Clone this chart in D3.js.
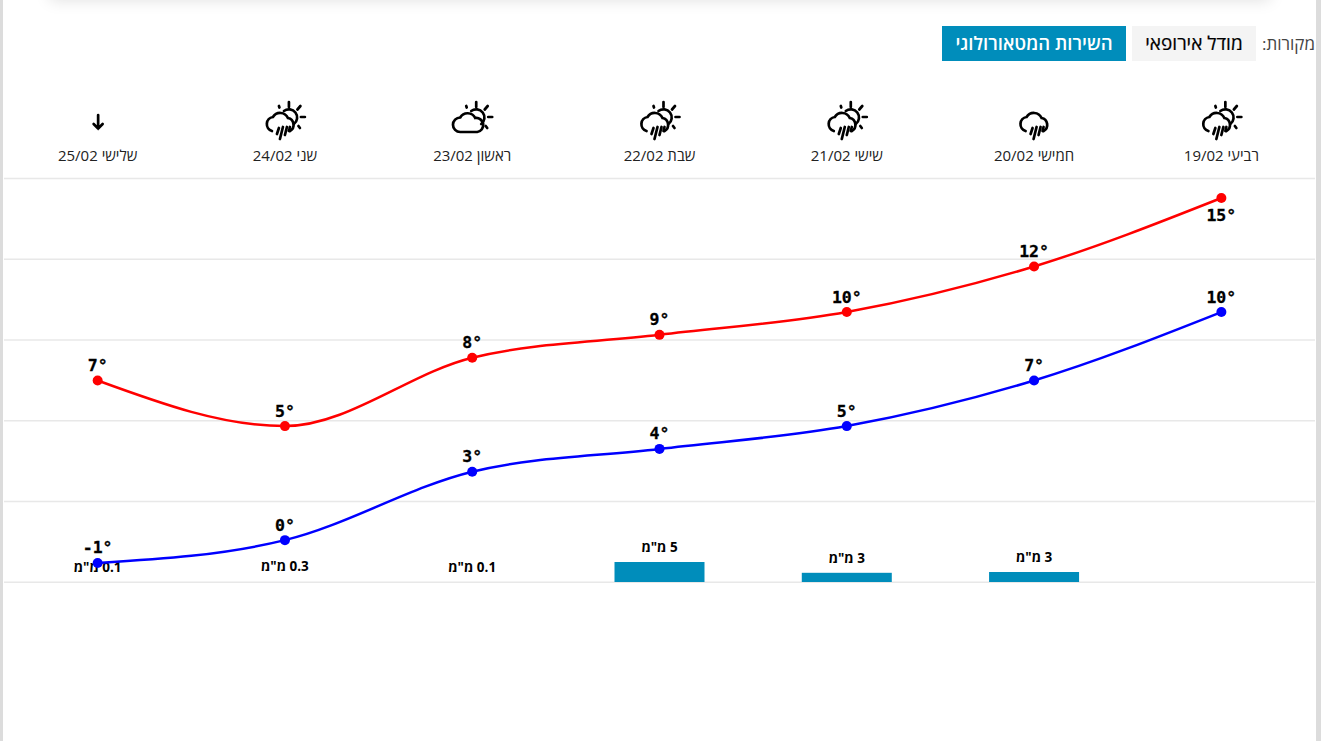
<!DOCTYPE html>
<html>
<head>
<meta charset="utf-8">
<script src="https://cdn.jsdelivr.net/npm/d3@7"></script>
<style>
html, body { margin: 0; padding: 0; background: #fff; overflow: hidden; }
svg { display: block; font-family: "Open Sans", sans-serif; }
.card-shadow { position: absolute; left: 50px; top: -30px; width: 1220px; height: 30px; box-shadow: 0 0 16px rgba(0,0,0,0.13); }
</style>
</head>
<body>
<div class="card-shadow"></div>
<script>
// data, right to left like the page
var days = ["רביעי", "חמישי", "שישי", "שבת", "ראשון", "שני", "שלישי"];
var dates = ["19/02", "20/02", "21/02", "22/02", "23/02", "24/02", "25/02"];
var maxTemps = [15, 12, 10, 9, 8, 5, 7];
var minTemps = [10, 7, 5, 4, 3, 0, -1];
var rain = [0, 2.5, 2.3, 5, 0.1, 0.3, 0.1];
var rainLabels = ["", "3", "3", "5", "0.1", "0.3", "0.1"];
var icons = ["partlyRain", "rain", "partlyRain", "partlyRain", "partly", "partlyRain", "arrow"];
var gridTemps = [-1.848, 1.693, 5.234, 8.775, 12.314, 15.855];
var sources = ["השירות המטאורולוגי", "מודל אירופאי"];

var w = 1321;
var h = 741;

var svg = d3.select("body")
            .append("svg")
            .attr("width", w)
            .attr("height", h);

// gray edges of the window
svg.append("rect").attr("x", 0).attr("y", 0).attr("width", 3).attr("height", h).style("fill", "#dcdcdc");
svg.append("rect").attr("x", 1316).attr("y", 0).attr("width", 5).attr("height", h).style("fill", "#dcdcdc");

var x = d3.scaleBand().domain(dates).range([1315, 4]);
var yTemp = d3.scaleLinear().domain([-1.848, 15.855]).range([582.3, 178.5]);
var yRain = d3.scaleLinear().domain([0, 5]).range([582, 562]);

function cx(i) {
    return x(dates[i]) + x.bandwidth() / 2;
}

// grid
svg.append("g")
    .selectAll("line")
    .data(gridTemps)
    .enter()
    .append("line")
    .attr("x1", 4)
    .attr("x2", 1315)
    .attr("y1", function(d) { return yTemp(d); })
    .attr("y2", function(d) { return yTemp(d); })
    .style("stroke", "#e8e8e8")
    .style("stroke-width", 1.5);

// source buttons
svg.append("text")
    .attr("x", 1315)
    .attr("y", 50)
    .attr("direction", "rtl")
    .style("font-size", "17px")
    .style("fill", "#444")
    .text("מקורות:");
svg.append("rect").attr("x", 1132).attr("y", 26).attr("width", 124).attr("height", 35).style("fill", "#f4f4f4");
svg.append("rect").attr("x", 942).attr("y", 26).attr("width", 184).attr("height", 35).style("fill", "#008dbb");
svg.append("text")
    .attr("x", 1194).attr("y", 50)
    .attr("text-anchor", "middle")
    .attr("direction", "rtl")
    .style("font-size", "19px")
    .style("stroke", "#000")
    .style("stroke-width", 0.2)
    .style("fill", "#000")
    .text(sources[1]);
svg.append("text")
    .attr("x", 1034).attr("y", 50)
    .attr("text-anchor", "middle")
    .attr("direction", "rtl")
    .style("font-size", "18.5px")
    .style("font-weight", "600")
    .style("fill", "#fff")
    .text(sources[0]);

// day header
var header = svg.append("g")
    .selectAll("g")
    .data(dates)
    .enter()
    .append("g")
    .attr("transform", function(d, i) { return "translate(" + cx(i) + ",120)"; });

header.append("text")
    .attr("y", 41)
    .attr("text-anchor", "middle")
    .attr("direction", "rtl")
    .style("font-size", "15px")
    .style("fill", "#222")
    .text(function(d, i) { return days[i] + " " + d; });

var cloudPartly = "M-12,12 A7.2,7.2 0 0 1 -12,-2.5 A8.5,8.5 0 0 1 3,-2 A7,7 0 0 1 5,12 Z";
var cloudRain = "M-13,11 A7.2,7.2 0 0 1 -12,-3 A8.5,8.5 0 0 1 3,-2 A7,7 0 0 1 5,11";
var sun = "M-1,-9 A8,8 0 0 1 9,4";
var rays = "M4,-18 V-13 M15.5,-14 L12.5,-10.5 M16,-3 H20 M13.5,6 L15,8 M-6,-14 L-5.5,-12.5";
var drops = "M-6,8 L-8,14 M-2,7 L-5,19 M2,7 L0,15 M5,7 L4,11";

header.each(function(d, i) {
    var g = d3.select(this);
    var type = icons[i];
    function stroke(p, dx, dy) {
        g.append("path")
            .attr("d", p)
            .attr("transform", "translate(" + dx + "," + (dy || 0) + ")")
            .style("fill", "none")
            .style("stroke", "#000")
            .style("stroke-width", 2.7)
            .style("stroke-linecap", "round");
    }
    if (type == "partlyRain") {
        stroke(sun, 0); stroke(rays, 0); stroke(cloudRain, 0); stroke(drops, 0);
    } else if (type == "rain") {
        stroke(cloudRain, 4.5); stroke(drops, 4.5);
    } else if (type == "partly") {
        stroke(sun, 0); stroke(rays, 0); stroke(cloudPartly, 0);
    } else if (type == "arrow") {
        stroke("M0,-5.5 V8 M-4.5,3.5 L0,8 L4.5,3.5", 0.5, 0.5);
    }
});

// rain bars, trace amounts don't show a bar
svg.append("g")
    .selectAll("rect")
    .data(rain)
    .enter()
    .append("rect")
    .attr("x", function(d, i) { return cx(i) - 45; })
    .attr("width", 90)
    .attr("y", function(d) { return yRain(d); })
    .attr("height", function(d) { return 582 - yRain(d); })
    .style("fill", "#008dbb")
    .style("display", function(d) { return d >= 1 ? null : "none"; });

svg.append("g")
    .selectAll("text")
    .data(rain)
    .enter()
    .append("text")
    .attr("x", function(d, i) { return cx(i); })
    .attr("y", function(d) { return yRain(d) - 10; })
    .attr("text-anchor", "middle")
    .attr("direction", "rtl")
    .style("font-size", "13.5px")
    .style("font-weight", "bold")
    .style("fill", "#000")
    .text(function(d, i) { return rainLabels[i] ? rainLabels[i] + ' מ"מ' : ""; });

// temperature lines
var line = d3.line()
    .x(function(d, i) { return cx(i); })
    .y(function(d) { return yTemp(d); })
    .curve(d3.curveMonotoneX);

function drawSeries(values, color) {
    var g = svg.append("g");
    g.append("path")
        .attr("d", line(values))
        .style("fill", "none")
        .style("stroke", color)
        .style("stroke-width", 2.5);
    g.selectAll("circle")
        .data(values)
        .enter()
        .append("circle")
        .attr("cx", function(d, i) { return cx(i); })
        .attr("cy", function(d) { return yTemp(d); })
        .attr("r", 5)
        .style("fill", color);
    g.selectAll("text")
        .data(values)
        .enter()
        .append("text")
        .attr("x", function(d, i) { return cx(i); })
        .attr("y", function(d) { return d == 15 ? yTemp(d) + 22.5 : yTemp(d) - 9.5; })
        .attr("text-anchor", "middle")
        .style("font-family", "'DejaVu Sans Mono', monospace")
        .style("font-size", "16.5px")
        .style("font-weight", "bold")
        .style("stroke", "#000")
        .style("stroke-width", 0.3)
        .style("fill", "#000")
        .text(function(d) { return d + "°"; });
}

drawSeries(maxTemps, "#ff0000");
drawSeries(minTemps, "#0000ff");
</script>
</body>
</html>
